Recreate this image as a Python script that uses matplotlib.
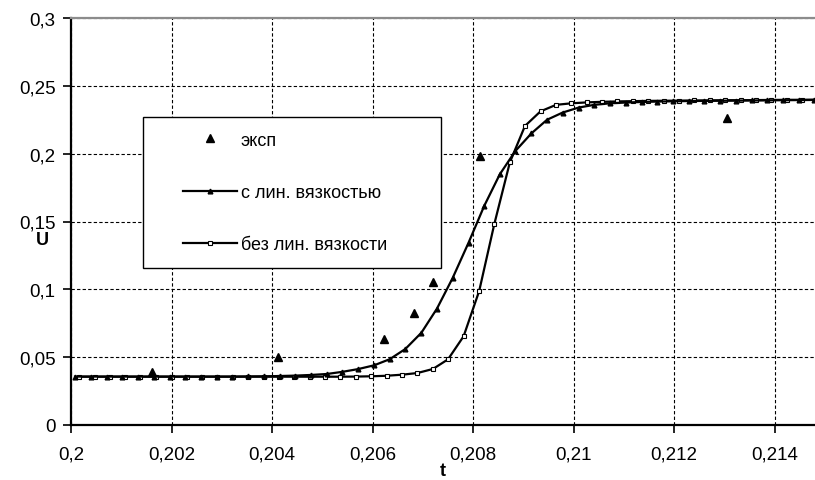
import matplotlib
matplotlib.use("Agg")
import matplotlib.pyplot as plt
from matplotlib.patches import Rectangle
from matplotlib.ticker import FuncFormatter, MultipleLocator

plt.rcParams['font.family'] = ['Liberation Sans', 'DejaVu Sans']
plt.rcParams['font.size'] = 13

# эксп
t_exp = [0.20161, 0.20412, 0.20623, 0.20682, 0.20721, 0.20814, 0.21305]
u_exp = [0.0388, 0.0499, 0.0634, 0.0823, 0.1052, 0.1985, 0.2261]

# с лин. вязкостью
t_visc = [0.20008, 0.20039, 0.20071, 0.20102, 0.20133, 0.20165, 0.20196, 0.20227,
          0.20258, 0.20290, 0.20321, 0.20352, 0.20384, 0.20415, 0.20446, 0.20478,
          0.20509, 0.20540, 0.20571, 0.20603, 0.20634, 0.20665, 0.20697, 0.20728,
          0.20759, 0.20791, 0.20822, 0.20853, 0.20884, 0.20916, 0.20947, 0.20978,
          0.21010, 0.21041, 0.21072, 0.21104, 0.21135, 0.21166, 0.21197, 0.21229,
          0.21260, 0.21291, 0.21323, 0.21354, 0.21385, 0.21417, 0.21448, 0.21479]
u_visc = [0.0357, 0.0357, 0.0357, 0.0357, 0.0357, 0.0357, 0.0357, 0.0357,
          0.0357, 0.0357, 0.0357, 0.0358, 0.0359, 0.0361, 0.0364, 0.0369,
          0.0376, 0.0392, 0.0412, 0.0440, 0.0485, 0.0560, 0.0680, 0.0858,
          0.1082, 0.1345, 0.1615, 0.1848, 0.2020, 0.2150, 0.2250, 0.2303,
          0.2340, 0.2360, 0.2371, 0.2377, 0.2381, 0.2384, 0.2386, 0.2388,
          0.2389, 0.2390, 0.2391, 0.2392, 0.2393, 0.2394, 0.2395, 0.2396]

# без лин. вязкости
t_novisc = [0.20016, 0.20047, 0.20077, 0.20108, 0.20138, 0.20169, 0.20200, 0.20230,
            0.20261, 0.20291, 0.20322, 0.20353, 0.20383, 0.20414, 0.20444, 0.20475,
            0.20506, 0.20536, 0.20567, 0.20597, 0.20628, 0.20659, 0.20689, 0.20720,
            0.20750, 0.20781, 0.20812, 0.20842, 0.20873, 0.20903, 0.20934, 0.20965,
            0.20995, 0.21026, 0.21056, 0.21087, 0.21118, 0.21148, 0.21179, 0.21209,
            0.21240, 0.21271, 0.21301, 0.21332, 0.21362, 0.21393, 0.21424, 0.21454,
            0.21485]
u_novisc = [0.0356, 0.0356, 0.0356, 0.0356, 0.0356, 0.0356, 0.0356, 0.0356,
            0.0356, 0.0356, 0.0356, 0.0356, 0.0356, 0.0356, 0.0356, 0.0356,
            0.0356, 0.0356, 0.0357, 0.0359, 0.0363, 0.0371, 0.0383, 0.0413,
            0.0484, 0.0654, 0.0988, 0.1480, 0.1936, 0.2204, 0.2312, 0.2360,
            0.2371, 0.2378, 0.2382, 0.2385, 0.2387, 0.2389, 0.2390, 0.2391,
            0.2392, 0.2393, 0.2394, 0.2394, 0.2395, 0.2396, 0.2397, 0.2397,
            0.2398]


def comma(v, pos):
    return f"{v:g}".replace(".", ",")


fig = plt.figure(figsize=(8.15, 4.81), dpi=100)
ax = fig.add_axes([71 / 815, 55 / 481, 744 / 815, 407 / 481])

ax.plot(t_novisc, u_novisc, color="black", lw=1.6, marker="s", ms=2.8,
        mfc="white", mec="black", mew=0.8, zorder=3, label="без лин. вязкости")
ax.plot(t_visc, u_visc, color="black", lw=1.6, marker="^", ms=3.4,
        mfc="black", mec="black", zorder=3, label="с лин. вязкостью")
ax.plot(t_exp, u_exp, ls="none", marker="^", ms=5.5, color="black",
        zorder=4, label="эксп")

ax.set_xlim(0.2, 0.2148)
ax.set_ylim(0, 0.3)
ax.xaxis.set_major_locator(MultipleLocator(0.002))
ax.yaxis.set_major_locator(MultipleLocator(0.05))
ax.xaxis.set_major_formatter(FuncFormatter(comma))
ax.yaxis.set_major_formatter(FuncFormatter(comma))
ax.tick_params(direction="out", length=6, width=1.2, colors="black", labelsize=13.5)
ax.tick_params(axis="x", pad=9)
ax.tick_params(axis="y", pad=5)

ax.grid(True, color="black", ls=(0, (3, 2)), lw=0.8)
ax.set_axisbelow(True)

ax.spines["right"].set_visible(False)
ax.spines["top"].set_color("#8c8c8c")
ax.spines["top"].set_linewidth(1.6)
ax.spines["left"].set_linewidth(1.6)
ax.spines["bottom"].set_linewidth(1.6)

fig.text(443 / 815, 1 - 472 / 481, "t", fontweight="bold", fontsize=13,
         ha="center", va="center")
fig.text(42 / 815, 1 - 241 / 481, "U", fontweight="bold", fontsize=13,
         ha="center", va="center")

# рамка легенды
box = Rectangle((0.0968, 0.3857), 0.4005, 0.3711, transform=ax.transAxes,
                facecolor="white", edgecolor="black", lw=1.0, zorder=5)
ax.add_patch(box)

handles, labels = ax.get_legend_handles_labels()
leg = ax.legend(handles[::-1], labels[::-1], loc="center",
                bbox_to_anchor=(0.0968 + 0.4005 / 2 - 0.0094, 0.3857 + 0.3711 / 2),
                frameon=False, numpoints=1, handlelength=3.0,
                handletextpad=0.2, labelspacing=1.95, fontsize=13)
leg.set_zorder(6)

fig.savefig("out.png", dpi=100)
